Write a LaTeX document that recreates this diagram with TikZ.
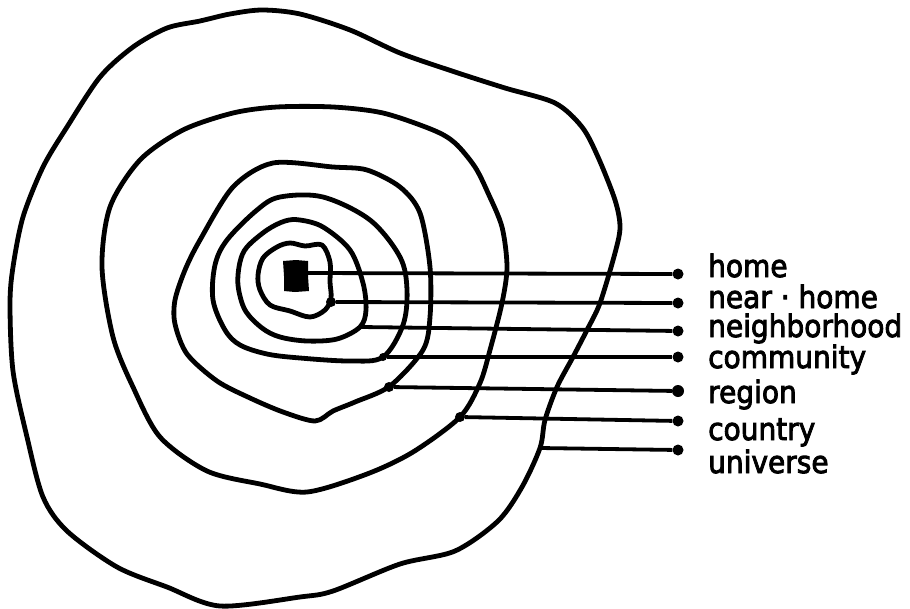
\documentclass[tikz,border=0pt]{standalone}
\usepackage{fontspec}
\usepackage{graphicx}
\newfontfamily\handfont[FakeBold=3]{DejaVu Sans}
\begin{document}
\begin{tikzpicture}[x=1pt,y=-1pt,
  ring/.style={line width=4.8pt,line join=round},
  link/.style={line width=3.8pt},
  enddot/.style={circle,fill=black,inner sep=0pt,minimum size=11pt},
  startdot/.style={circle,fill=black,inner sep=0pt,minimum size=10pt},
  lbl/.style={anchor=base west,inner sep=0pt,font=\handfont\fontsize{28}{30}\selectfont}]
\newcommand\tallword[1]{\scalebox{1}[1.1]{#1}}
\useasboundingbox (0,0) rectangle (910,608);
% home square
\fill[line join=round] (283,261) -- (296,260) -- (308,261) -- (308,276) -- (309,291) -- (295,292) -- (284,291) -- (284,276) -- cycle;
% near home ring
\draw[ring] plot[smooth cycle,tension=0.55] coordinates {(277,247) (290,243) (305,246) (322,245) (330,262) (330,282) (331,298) (325,310) (310,317) (290,311) (270,305) (260,290) (258,275) (263,258)};
% neighborhood ring
\draw[ring] plot[smooth cycle,tension=0.55] coordinates {(247,247) (267,230) (285,221) (300,220) (323,227) (350,250) (363,283) (366,310) (360,327) (337,339) (307,341) (280,337) (262,328) (245,310) (238,285) (240,262)};
% community ring
\draw[ring] plot[smooth cycle,tension=0.55] coordinates {(227,240) (257,210) (280,197) (323,197) (370,220) (400,257) (407,290) (403,325) (383,357) (350,361) (300,358) (267,354) (240,345) (225,330) (213,300) (215,265)};
% region ring
\draw[ring] plot[smooth cycle,tension=0.5] coordinates {(200,240) (233,187) (273,163) (333,167) (367,170) (400,187) (420,213) (430,267) (430,317) (423,350) (390,386) (355,402) (333,411) (315,421) (283,412) (250,398) (217,381) (187,354) (175,324) (175,300) (185,270)};
% country ring
\draw[ring] plot[smooth cycle,tension=0.5] coordinates {(102,267) (110,207) (140,160) (183,130) (233,113) (277,107) (333,107) (383,113) (433,130) (455,143) (475,167) (488,193) (502,227) (507,267) (502,303) (490,350) (480,383) (460,417) (413,452) (367,474) (307,492) (260,484) (207,471) (160,437) (133,387) (113,337)};
% universe ring
\draw[ring] plot[smooth cycle,tension=0.5] coordinates {(10,304) (13,267) (23,217) (43,167) (67,127) (100,77) (133,47) (167,28) (200,21) (230,14) (262,10) (300,14) (350,30) (400,53) (455,72) (505,88) (555,103) (582,127) (598,157) (615,200) (620,227) (615,253) (600,303) (587,330) (573,357) (557,387) (545,420) (540,448) (522,487) (498,521) (455,551) (400,564) (333,591) (300,597) (220,606) (167,587) (117,567) (67,531) (43,497) (27,437) (13,371)};
% start points
\coordinate (s1) at (307,273);
\node[startdot] (s2) at (331,302) {};
\coordinate (s3) at (361,327);
\node[startdot,minimum size=8pt] (s4) at (383,357) {};
\node[startdot] (s5) at (389,387) {};
\node[startdot] (s6) at (460,417) {};
\coordinate (s7) at (540,448);
% end dots
\node[enddot] (e1) at (678,274) {};
\node[enddot] (e2) at (678,303) {};
\node[enddot] (e3) at (678,331) {};
\node[enddot] (e4) at (678,357) {};
\node[enddot,minimum size=12pt] (e5) at (678,391) {};
\node[enddot] (e6) at (678,421) {};
\node[enddot] (e7) at (678,450) {};
\draw[link] (s1) -- (e1);
\draw[link] (s2) -- (e2);
\draw[link] (s3) -- (e3);
\draw[link] (s4) -- (e4);
\draw[link] (s5) -- (e5);
\draw[link] (s6) -- (e6);
\draw[link] (s7) -- (e7);
% labels
\node[lbl] (t1) at (708,277) {\tallword{home}};
\node[lbl] (t2) at (708,308) {\tallword{near · home}};
\node[lbl] (t3) at (708,337) {\tallword{neighborhood}};
\node[lbl] (t4) at (708,368) {\tallword{community}};
\node[lbl] (t5) at (708,403) {\tallword{region}};
\node[lbl] (t6) at (708,440) {\tallword{country}};
\node[lbl] (t7) at (708,473) {\tallword{universe}};
\end{tikzpicture}
\end{document}
